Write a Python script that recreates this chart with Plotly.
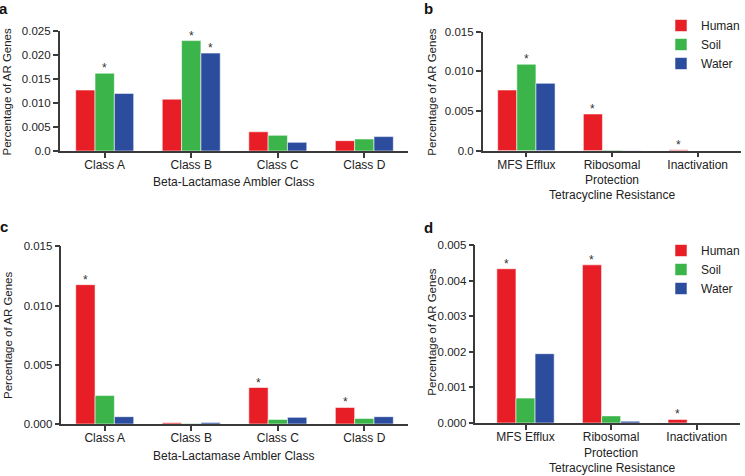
import plotly.graph_objects as go

W, H = 745, 476

# ---------------- data ----------------
series = ["Human", "Soil", "Water"]
colors = ["rgb(232,30,38)", "rgb(59,181,74)", "rgb(44,76,158)"]

cats_beta = ["Class A", "Class B", "Class C", "Class D"]
cats_tet = ["MFS Efflux", "Ribosomal<br>Protection", "Inactivation"]

# panel a: beta-lactamase
a_human = [0.0127, 0.0108, 0.0040, 0.00215]
a_soil = [0.0162, 0.0230, 0.00326, 0.0025]
a_water = [0.0120, 0.0204, 0.0018, 0.0030]

# panel b: tetracycline
b_human = [0.00765, 0.00463, 0.00012]
b_soil = [0.0109, 0.0001, 0.0]
b_water = [0.0085, 0.00003, 0.0]

# panel c: beta-lactamase
c_human = [0.01176, 0.0001, 0.00308, 0.0014]
c_soil = [0.0024, 0.00005, 0.00039, 0.00047]
c_water = [0.00062, 0.00012, 0.00056, 0.00062]

# panel d: tetracycline
d_human = [0.00434, 0.00445, 0.0001]
d_soil = [0.0007, 0.0002, 0.0]
d_water = [0.00195, 0.00005, 0.0]

# significance markers: (category index, series index)
a_stars = [(0, 1), (1, 1), (1, 2)]
b_stars = [(0, 1), (1, 0), (2, 0)]
c_stars = [(0, 0), (2, 0), (3, 0)]
d_stars = [(0, 0), (1, 0), (2, 0)]

a_ticks = [0, 0.005, 0.010, 0.015, 0.020, 0.025]
a_ticktext = ["0.0", "0.005", "0.010", "0.015", "0.020", "0.025"]
b_ticks = [0, 0.005, 0.010, 0.015]
b_ticktext = ["0.0", "0.005", "0.010", "0.015"]
c_ticks = [0, 0.005, 0.010, 0.015]
c_ticktext = ["0.000", "0.005", "0.010", "0.015"]
d_ticks = [0, 0.001, 0.002, 0.003, 0.004, 0.005]
d_ticktext = ["0.000", "0.001", "0.002", "0.003", "0.004", "0.005"]

y_title = "Percentage of AR Genes"
x_title_beta = "Beta-Lactamase Ambler Class"
x_title_tet = "Tetracycline Resistance"
panel_letters = ["a", "b", "c", "d"]

# ---------------- figure ----------------
def px_x(x):
    return x / W

def px_y(y):
    return 1 - y / H

fig = go.Figure()
BARGAP = 0.33
bw = (1 - BARGAP) / 3

panels = [
    ("x", "y", cats_beta, [a_human, a_soil, a_water], a_stars, None, False),
    ("x2", "y2", cats_tet, [b_human, b_soil, b_water], b_stars, "legend", True),
    ("x3", "y3", cats_beta, [c_human, c_soil, c_water], c_stars, None, False),
    ("x4", "y4", cats_tet, [d_human, d_soil, d_water], d_stars, "legend2", True),
]

FONT = "Liberation Sans, Arial, sans-serif"
axis_font = dict(family=FONT, size=12, color="#222")
DARK = "#3a3a3a"

for xa, ya, cats, vals, stars, leg, show in panels:
    for i, (name, col, v) in enumerate(zip(series, colors, vals)):
        kw = dict(legend=leg) if leg else {}
        fig.add_trace(go.Bar(
            x=cats, y=v, name=name, xaxis=xa, yaxis=ya,
            marker=dict(color=col, line=dict(color="rgba(255,255,255,0.7)", width=0.8)),
            showlegend=show, offsetgroup=str(i), **kw,
        ))
    for ci, si in stars:
        fig.add_annotation(
            x=ci + (si - 1) * bw, y=vals[si][ci], xref=xa, yref=ya,
            text="*", showarrow=False, yanchor="bottom", yshift=-4,
            font=dict(family=FONT, size=12, color="#333"),
        )

common_x = dict(showline=True, linecolor=DARK, linewidth=1.5, ticks="outside",
                ticklen=5, tickwidth=1.5, tickcolor=DARK, showgrid=False,
                tickfont=axis_font, automargin=False, fixedrange=True,
                ticklabelstandoff=-3)
common_y = dict(showline=True, linecolor=DARK, linewidth=1.5, ticks="outside",
                ticklen=5, tickwidth=1.5, tickcolor=DARK, showgrid=False,
                zeroline=False, tickfont=dict(family=FONT, size=11.5, color="#222"),
                automargin=False, fixedrange=True)

leg_font = dict(family=FONT, size=12, color="#222")
fig.update_layout(
    width=W, height=H, margin=dict(l=0, r=0, t=0, b=0),
    paper_bgcolor="white", plot_bgcolor="white",
    barmode="group", bargap=BARGAP, bargroupgap=0,
    xaxis=dict(domain=[px_x(60), px_x(409.8)], range=[-0.52, 3.5], anchor="y", **common_x),
    yaxis=dict(domain=[px_y(151), px_y(31)], range=[0, 0.025], tickvals=a_ticks,
               ticktext=a_ticktext, anchor="x", **common_y),
    xaxis2=dict(domain=[px_x(485.3), px_x(744.5)], range=[-0.51, 2.5], anchor="y2", **common_x),
    yaxis2=dict(domain=[px_y(150.7), px_y(31.7)], range=[0, 0.015], tickvals=b_ticks,
                ticktext=b_ticktext, anchor="x2", **common_y),
    xaxis3=dict(domain=[px_x(61.8), px_x(409.8)], range=[-0.5, 3.5], anchor="y3", **common_x),
    yaxis3=dict(domain=[px_y(424), px_y(246.3)], range=[0, 0.015], tickvals=c_ticks,
                ticktext=c_ticktext, anchor="x3", **common_y),
    xaxis4=dict(domain=[px_x(478), px_x(743.5)], range=[-0.585, 2.5], anchor="y4", **common_x),
    yaxis4=dict(domain=[px_y(423), px_y(245.3)], range=[0, 0.005], tickvals=d_ticks,
                ticktext=d_ticktext, anchor="x4", **common_y),
    legend=dict(x=px_x(665), y=px_y(11), xanchor="left", yanchor="top", font=leg_font,
                bgcolor="rgba(0,0,0,0)", itemclick=False, tracegroupgap=0),
    legend2=dict(x=px_x(665), y=px_y(236), xanchor="left", yanchor="top", font=leg_font,
                 bgcolor="rgba(0,0,0,0)", itemclick=False, tracegroupgap=0),
    font=dict(family=FONT, color="#222"),
)

title_font = dict(family=FONT, size=12, color="#222")
ytitle_font = dict(family=FONT, size=11.5, color="#222")

# axis titles
for (xc, yc, txt) in [(235, 182, x_title_beta), (615, 195, x_title_tet),
                      (235, 456, x_title_beta), (615, 468, x_title_tet)]:
    fig.add_annotation(x=px_x(xc), y=px_y(yc), xref="paper", yref="paper", text=txt,
                       showarrow=False, xanchor="center", yanchor="middle", font=title_font)
for (xc, yc) in [(8, 91.5), (434, 92), (8, 335), (434, 332)]:
    fig.add_annotation(x=px_x(xc), y=px_y(yc), xref="paper", yref="paper", text=y_title,
                       showarrow=False, textangle=-90, xanchor="center", yanchor="middle",
                       font=ytitle_font)

# panel letters
for (xc, yc), letter in zip([(4, 8), (431, 8), (4, 226), (431, 227)], panel_letters):
    fig.add_annotation(x=px_x(xc), y=px_y(yc), xref="paper", yref="paper",
                       text="<b>%s</b>" % letter, showarrow=False, xanchor="center",
                       yanchor="middle", font=dict(family=FONT, size=15, color="#111"))

fig.write_html("out.html", config={"displayModeBar": False},
               post_script="document.body.style.margin='0';")
